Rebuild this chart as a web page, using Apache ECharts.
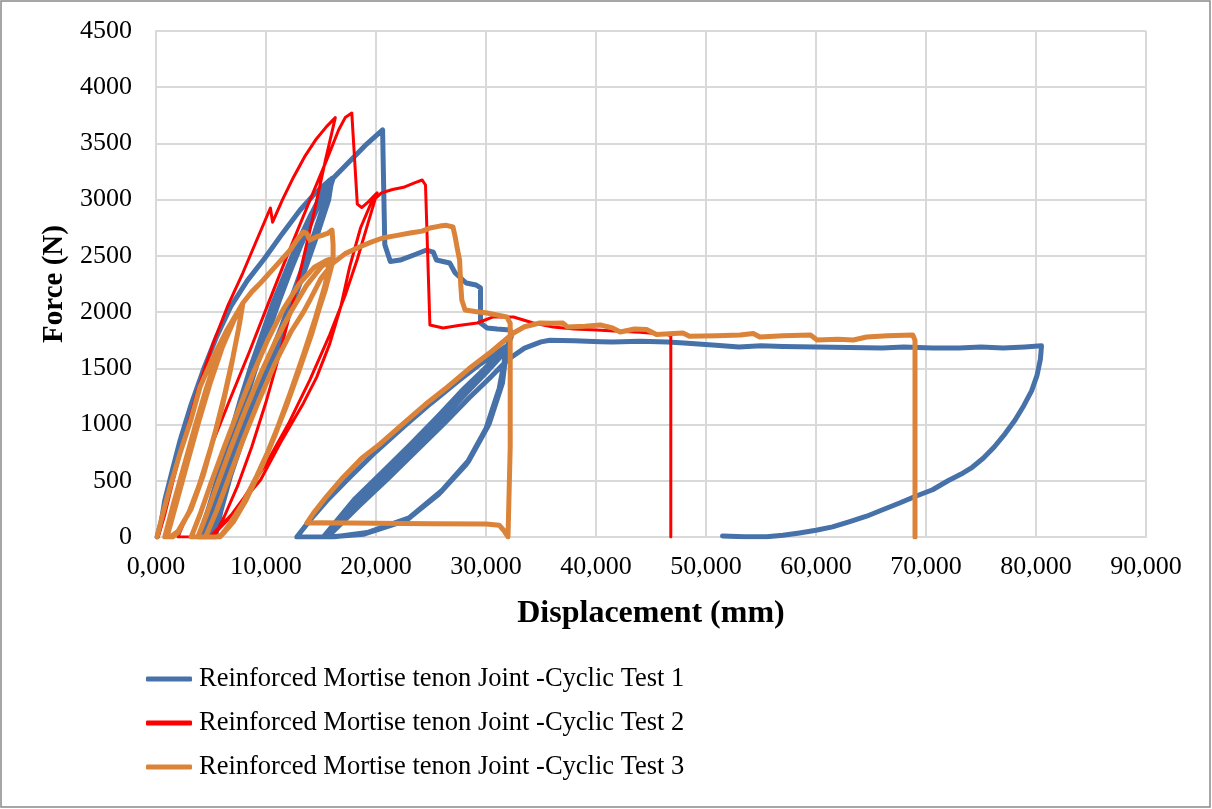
<!DOCTYPE html>
<html>
<head>
<meta charset="utf-8">
<script src="https://cdn.jsdelivr.net/npm/echarts@6/dist/echarts.min.js"></script>
<style>
  html, body { margin: 0; padding: 0; background: #fff; }
  #chart { width: 1212px; height: 809px; }
</style>
</head>
<body>
<div id="chart"></div>
<script>
// Cyclic load tests on reinforced mortise-tenon joints: [displacement (mm), force (N)]
const seriesNames = [
  'Reinforced Mortise tenon Joint -Cyclic Test 1',
  'Reinforced Mortise tenon Joint -Cyclic Test 2',
  'Reinforced Mortise tenon Joint -Cyclic Test 3'
];

const test1 = [
  [0.1,0],[0.5,150],[0.8,329],[1.5,600],[2.2,863],[3.2,1180],[4.3,1485],[5.5,1780],[6.8,2050],[8.3,2280],[9.9,2481],
  [11.5,2700],[13.1,2908],[14.5,3060],[15.8,3175],[16.1,3190],
  [15.5,3000],[14.5,2700],[13.5,2420],[12.5,2150],[11.5,1870],[10.5,1620],[9.5,1360],[8.5,1110],[7.5,840],[6.5,550],[5.5,230],[5.0,0],
  [4.2,0],[5,230],[6,560],[7,890],[8,1230],[9,1540],[10,1820],[11,2100],[12,2360],[13,2600],[14,2820],[15,3020],[16,3180],
  [15.6,3000],[14.6,2700],[13.6,2420],[12.6,2150],[11.6,1870],[10.6,1620],[9.6,1360],[8.6,1110],[7.6,840],[6.6,550],[5.7,230],[5.2,0],
  [4.4,0],[5.2,230],[6.2,560],[7.2,890],[8.2,1230],[9.2,1540],[10.2,1820],[11.2,2100],[12.2,2360],[13.2,2600],[14.2,2820],[15.1,3020],[16,3185],
  [15.4,3000],[14.4,2700],[13.4,2420],[12.4,2150],[11.4,1870],[10.4,1620],[9.4,1360],[8.4,1110],[7.4,840],[6.4,550],[5.4,230],[4.9,0],
  [3.9,0],[4.7,230],[5.7,560],[6.7,890],[7.7,1230],[8.7,1540],[9.7,1820],[10.7,2100],[11.8,2360],[12.8,2600],[13.9,2830],[15,3040],[16,3190],
  [15.7,3000],[14.7,2700],[13.7,2420],[12.7,2150],[11.7,1870],[10.8,1620],[9.8,1360],[8.8,1110],[7.8,840],[6.8,550],[5.9,230],[5.4,0],
  [4.0,0],[4.8,230],[5.8,560],[6.8,890],[7.8,1230],[8.8,1540],[9.8,1820],[10.8,2100],[11.8,2360],[12.9,2600],[14,2850],[15.2,3070],[16.1,3190],
  [17.5,3330],[19,3480],[20.6,3620],[20.7,3100],[20.8,2600],[21.3,2450],[22.2,2463],[23.5,2510],[24.6,2552],[25.2,2534],[25.5,2463],
  [26.7,2437],[27.2,2348],[28.2,2259],[29.1,2241],[29.5,2215],[29.5,1903],[30.1,1859],[31,1850],[32.2,1841],
  [32.3,1780],[31.9,1690],[31.3,1334],[30.1,978],[28.3,658],[25.8,391],[22.8,151],[19,30],[15.8,0],
  [12.8,0],[14,150],[15.5,320],[17.5,520],[20,760],[22.5,980],[25,1190],[27.5,1390],[29.5,1540],[31,1640],[31.9,1700],
  [31.3,1334],[30.1,978],[28.3,658],[25.8,391],[22.8,151],[19,30],[15.8,0],
  [15.5,0],[18.3,300],[21,560],[23.4,790],[26,1050],[28.3,1290],[30,1460],[31.3,1600],[31.9,1680],
  [31.4,1350],[30.2,990],[28.4,670],[25.9,400],[22.9,160],[19.1,35],[16,0],
  [15.4,0],[18.2,310],[20.9,570],[23.3,800],[25.9,1060],[28.2,1300],[29.9,1470],[31.2,1610],[31.9,1690],
  [31.2,1320],[30,965],[28.2,645],[25.7,380],[22.7,145],[18.9,25],[15.7,0],
  [15.2,0],[18,330],[20.7,590],[23.1,820],[25.7,1080],[28,1320],[29.8,1490],[31.1,1620],[31.9,1695],
  [31.5,1370],[30.3,1010],[28.5,690],[26,415],[23,170],[19.2,40],[16.1,0],
  [15.6,0],[18.5,280],[21.2,530],[23.6,760],[26.2,1010],[28.5,1240],[30.3,1410],[31.5,1530],[32.2,1592],
  [33.5,1680],[35,1735],[35.8,1750],[38,1745],[40.4,1737],[41.5,1734],[44,1740],[46.5,1734],[48,1725],[50.6,1707],[53,1690],
  [55,1700],[57,1695],[60,1690],[63,1685],[66,1680],[68,1690],[70.6,1680],[73,1680],[75,1690],[77,1680],[79,1690],[80.5,1700],
  [80.6,1690],[80.4,1580],[80.1,1440],[79.6,1300],[78.9,1170],[78.1,1040],[77.2,920],[76.2,800],[75.2,700],[74.2,620],
  [73.2,560],[72,500],[70.6,420],[69,360],[67.6,302],[66,240],[64.6,185],[63,135],[61.5,90],[60,60],[58.5,36],[57,15],
  [55.5,2],[53.5,3],[51.5,9]
];

const test2 = [
  [0.2,0],[0.8,200],[1.5,480],[2.5,850],[3.7,1280],[5.2,1725],[6.5,2050],[7.9,2350],[9.2,2650],[10.4,2926],[10.6,2800],
  [11.5,3000],[12.5,3200],[13.5,3380],[14.5,3530],[15.5,3650],[16.3,3730],
  [15.4,3350],[14.4,2900],[13.4,2480],[12.5,2108],[11.3,1650],[10,1200],[8.7,800],[7.4,450],[6.2,180],[5.3,0],
  [2.0,0],[3.5,350],[5,800],[6.7,1218],[8.5,1650],[10.3,2100],[12,2520],[14,2997],[15.5,3350],[16.6,3620],[17.2,3730],[17.8,3770],
  [18.3,2960],[18.7,2930],[19.3,2980],[20.1,3060],
  [19.3,2800],[18.3,2470],[17.2,2150],[15.8,1800],[14,1400],[12,1000],[10,650],[8,350],[6.5,150],[5.3,30],[4.9,0],
  [4.9,0],[7,213],[9.5,507],[11.3,836],[13.4,1190],[14.6,1420],[15.8,1720],[16.8,2050],[17.6,2400],[18.6,2750],[19.6,2980],
  [20.5,3060],[21.5,3090],[22.5,3110],[23.5,3150],[24.2,3175],[24.5,3130],[24.9,1885],[26.1,1859],[27.5,1880],[29.2,1903],
  [30.6,1956],[32.5,1956],[34.3,1903],[36.1,1868],[38,1850],[40.1,1841],[42,1830],[44,1820],[46.5,1800],[46.8,1790],[46.8,0]
];

const test3 = [
  [0.1,0],[0.6,200],[1.3,450],[2.2,750],[3.2,1050],[4,1334],[5.2,1600],[6.5,1850],[7.6,2030],[7.9,2081],
  [7.6,1900],[7,1600],[6.2,1250],[5.3,900],[4.3,550],[3.2,250],[2.0,50],[1.3,0],
  [0.8,0],[1.6,300],[2.6,650],[3.6,1000],[4.6,1330],[5.6,1620],[6.7,1880],[7.9,2080],
  [7.5,1850],[6.8,1500],[6,1150],[5,800],[4,480],[3,220],[2,40],[1.5,0],
  [1.0,0],[1.9,320],[2.9,680],[3.9,1030],[4.9,1360],[6,1680],[7.1,1930],[7.9,2081],
  [8.7,2180],[9.5,2259],[10.8,2400],[12.2,2552],[12.8,2640],[13.4,2712],[13.7,2700],[14,2641],[14.6,2670],[15.2,2686],[15.6,2700],[16,2730],
  [16.1,2600],[16.1,2460],[15.4,2200],[14.4,1900],[13.2,1550],[12,1220],[10.8,900],[9.5,600],[8.2,330],[7,130],[6,20],[5.5,0],
  [3.2,0],[4,200],[5,480],[6.2,800],[7.5,1130],[8.8,1450],[10.2,1760],[11.6,2030],[13,2250],[14.4,2400],[15.5,2460],[15.8,2470],
  [15.4,2250],[14.5,1950],[13.4,1620],[12.2,1280],[11,960],[9.8,670],[8.5,400],[7.2,180],[6.2,40],[5.8,0],
  [3.8,0],[4.6,200],[5.6,470],[6.8,790],[8.1,1120],[9.5,1450],[10.9,1750],[12.3,2010],[13.7,2240],[15,2400],[15.8,2460],
  [15.2,2150],[14.2,1820],[13,1480],[11.8,1150],[10.5,830],[9.2,550],[7.9,300],[6.6,100],[5.8,0],
  [4.5,0],[5.5,230],[6.6,520],[7.9,860],[9.3,1200],[10.8,1540],[12.3,1830],[13.4,2000],[14,2108],[15,2300],[16.1,2437],
  [17.2,2520],[18.5,2579],[19.5,2620],[20.6,2659],[21.8,2680],[23.1,2703],[24.2,2720],[24.9,2748],[25.8,2765],[26.4,2772],[27,2757],
  [27.2,2668],[27.4,2560],[27.6,2463],[27.7,2250],[27.8,2108],[28.1,2019],[29,2005],[30.1,1992],[31,1975],[31.9,1956],[32.2,1900],
  [32.2,800],[32.0,0],[31.6,60],[31.2,105],[30,115],[25,118],[20,122],[15,126],[13.7,124],
  [14.3,210],[15.5,360],[17,530],[18.7,700],[20.4,830],[22.5,1010],[24.5,1180],[26.5,1334],[28.5,1500],[30.5,1650],[32.5,1814],
  [33.5,1870],[34.9,1903],[36,1900],[37,1903],[37.4,1868],[39,1875],[40.4,1885],[41.5,1860],[42.2,1823],[43.5,1850],[44.6,1845],
  [45.5,1800],[47.9,1814],[48.5,1785],[51,1790],[53.1,1796],[54.3,1810],[54.9,1779],[57,1790],[59.5,1796],[60.1,1752],[62,1758],
  [63.4,1752],[64.6,1779],[66.5,1790],[68.8,1796],[69.0,1750],[69.0,0]
];

const seriesColors = ['#4672A9', '#FF0000', '#DB8339'];
const seriesWidths = [5, 3, 5];
const seriesData = [test1, test2, test3];

const xTicks = { min: 0, max: 90, step: 10 };
const yTicks = { min: 0, max: 4500, step: 500 };

const fontFamily = '"Liberation Serif", "Times New Roman", serif';
const gridColor = '#D9D9D9';

const chart = echarts.init(document.getElementById('chart'), null, { renderer: 'canvas' });

chart.setOption({
  backgroundColor: '#ffffff',
  animation: false,
  graphic: [{
    type: 'rect',
    shape: { x: 1, y: 1, width: 1209, height: 806 },
    style: { fill: 'none', stroke: '#898989', lineWidth: 1.5 },
    silent: true
  }],
  grid: { left: 156, right: 66, top: 31, bottom: 272, containLabel: false },
  xAxis: {
    type: 'value',
    min: xTicks.min, max: xTicks.max, interval: xTicks.step,
    name: 'Displacement (mm)',
    nameLocation: 'middle',
    nameGap: 61,
    nameTextStyle: { fontFamily, fontSize: 32, fontWeight: 'bold', color: '#000' },
    axisLine: { show: true, lineStyle: { color: gridColor, width: 2 } },
    axisTick: { show: false },
    axisLabel: {
      fontFamily, fontSize: 26, color: '#000', margin: 17,
      formatter: v => v.toFixed(3).replace('.', ',')
    },
    splitLine: { show: true, lineStyle: { color: gridColor, width: 2 } }
  },
  yAxis: {
    type: 'value',
    min: yTicks.min, max: yTicks.max, interval: yTicks.step,
    name: 'Force (N)',
    nameLocation: 'middle',
    nameGap: 83,
    nameRotate: 90,
    nameTextStyle: { fontFamily, fontSize: 29, fontWeight: 'bold', color: '#000' },
    axisLine: { show: true, lineStyle: { color: gridColor, width: 2 } },
    axisTick: { show: false },
    axisLabel: { fontFamily, fontSize: 26, color: '#000', margin: 24, formatter: v => String(v) },
    splitLine: { show: true, lineStyle: { color: gridColor, width: 2 } }
  },
  legend: {
    orient: 'vertical',
    left: 141,
    top: 659,
    itemWidth: 46,
    itemHeight: 5,
    itemGap: 14,
    icon: 'roundRect',
    data: seriesNames,
    textStyle: { fontFamily, fontSize: 26.5, color: '#000', lineHeight: 30, padding: [0, 0, 0, 2] }
  },
  series: seriesData.map((d, i) => ({
    name: seriesNames[i],
    type: 'line',
    data: d,
    showSymbol: false,
    symbol: 'none',
    smooth: false,
    clip: true,
    color: seriesColors[i],
    lineStyle: { color: seriesColors[i], width: seriesWidths[i], join: 'round', cap: 'round' },
    emphasis: { disabled: true },
    z: 2 + i
  }))
});
</script>
</body>
</html>
